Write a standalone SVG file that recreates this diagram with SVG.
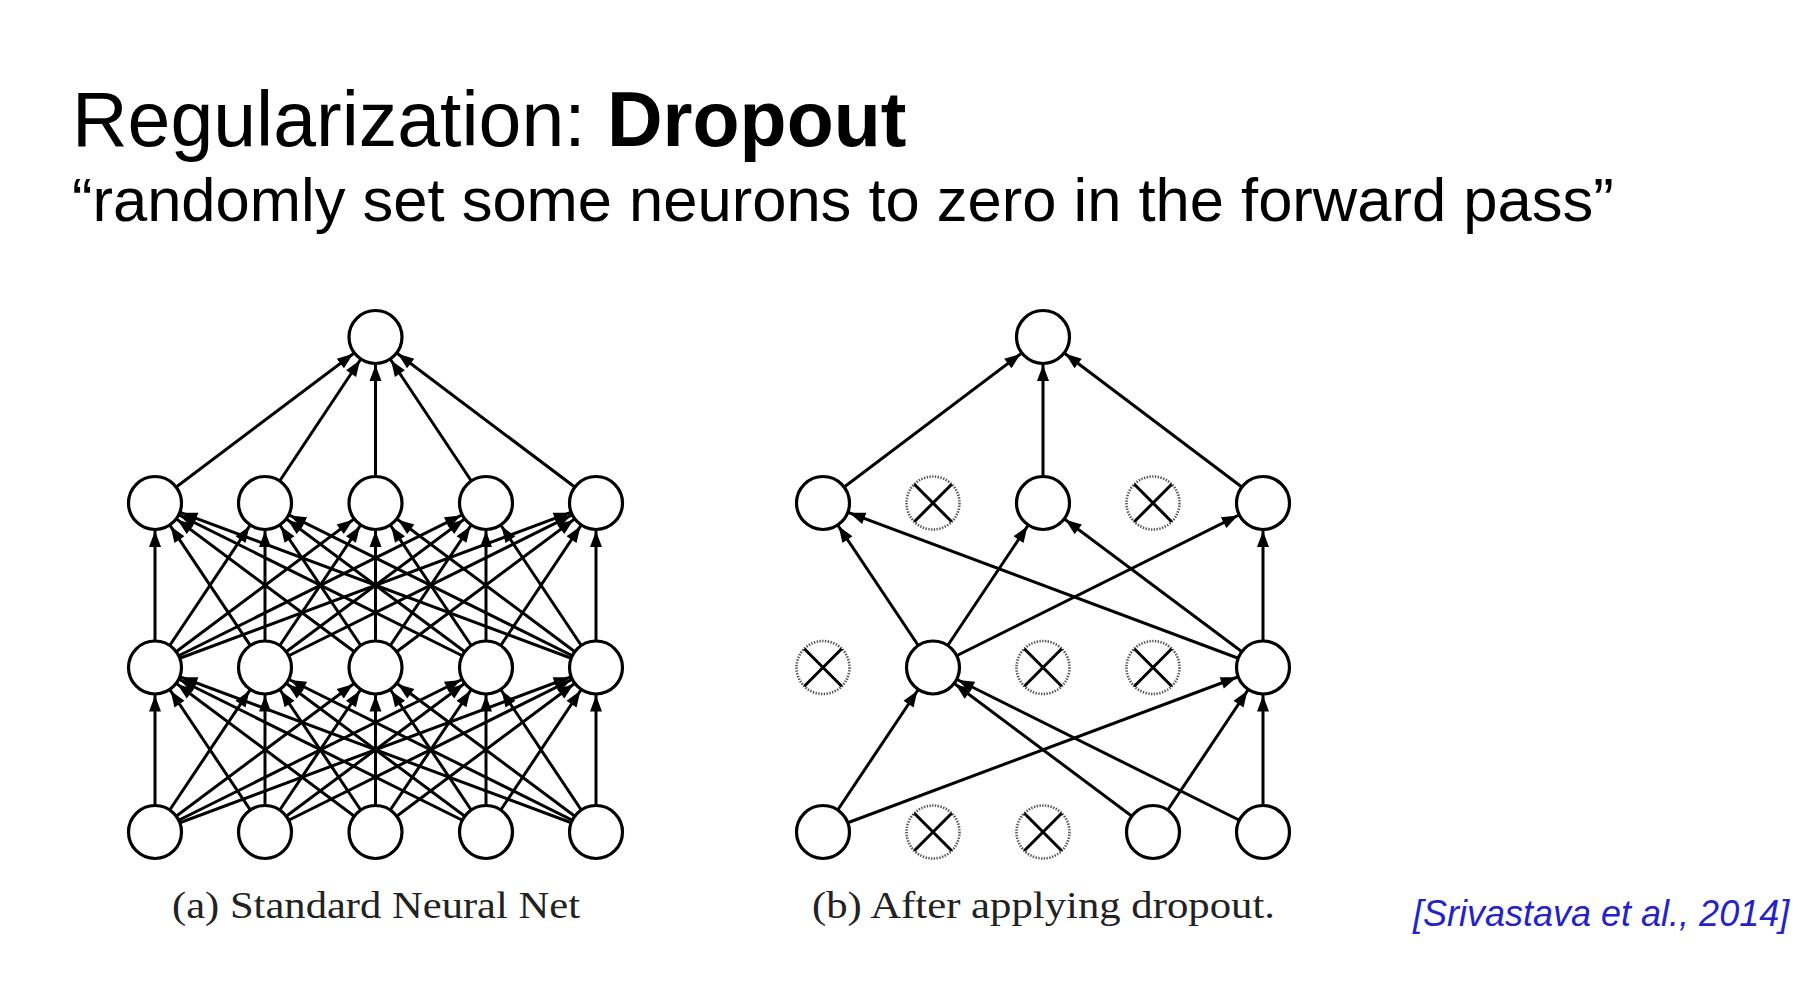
<svg xmlns="http://www.w3.org/2000/svg" width="1804" height="988" viewBox="0 0 1804 988">
<style>
.e{stroke:#000;stroke-width:3;fill:none;marker-end:url(#ah)}
.n{fill:#fff;stroke:#000;stroke-width:3.2}
.d{fill:#fff;stroke:#555;stroke-width:2.6;stroke-dasharray:1.4 1.4}
.x{stroke:#000;stroke-width:3}
.ttl{font-family:"Liberation Sans",Arial,sans-serif;fill:#000}
.cap{font-family:"Liberation Serif","Times New Roman",serif;font-size:37px;fill:#222}
</style>
<defs>
<marker id="ah" markerUnits="userSpaceOnUse" markerWidth="48" markerHeight="14" refX="44" refY="6" orient="auto" overflow="visible">
<path d="M0,0 L16,6 L0,12 Z" fill="#000"/>
</marker>
</defs>
<rect x="0" y="0" width="1804" height="988" fill="#fff"/>
<text class="ttl" x="72" y="146" font-size="77">Regularization: <tspan font-weight="bold">Dropout</tspan></text>
<text class="ttl" x="72" y="221" font-size="61.5">“randomly set some neurons to zero in the forward pass”</text>
<text x="1413" y="926" font-family="'Liberation Sans',Arial,sans-serif" font-style="italic" font-size="36" fill="#2323c8">[Srivastava et al., 2014]</text>
<text class="cap" x="172" y="918" textLength="408" lengthAdjust="spacingAndGlyphs">(a) Standard Neural Net</text>
<text class="cap" x="812" y="918" textLength="463" lengthAdjust="spacingAndGlyphs">(b) After applying dropout.</text>
<g id="connectors">
<!-- (a) hidden2 to output -->
<line class="e" x1="155" y1="503" x2="375.5" y2="337"/>
<line class="e" x1="265" y1="503" x2="375.5" y2="337"/>
<line class="e" x1="375.5" y1="503" x2="375.5" y2="337"/>
<line class="e" x1="486" y1="503" x2="375.5" y2="337"/>
<line class="e" x1="596" y1="503" x2="375.5" y2="337"/>
<!-- (a) hidden1 to hidden2 -->
<line class="e" x1="155" y1="667.5" x2="155" y2="503"/>
<line class="e" x1="265" y1="667.5" x2="155" y2="503"/>
<line class="e" x1="375.5" y1="667.5" x2="155" y2="503"/>
<line class="e" x1="486" y1="667.5" x2="155" y2="503"/>
<line class="e" x1="596" y1="667.5" x2="155" y2="503"/>
<line class="e" x1="155" y1="667.5" x2="265" y2="503"/>
<line class="e" x1="265" y1="667.5" x2="265" y2="503"/>
<line class="e" x1="375.5" y1="667.5" x2="265" y2="503"/>
<line class="e" x1="486" y1="667.5" x2="265" y2="503"/>
<line class="e" x1="596" y1="667.5" x2="265" y2="503"/>
<line class="e" x1="155" y1="667.5" x2="375.5" y2="503"/>
<line class="e" x1="265" y1="667.5" x2="375.5" y2="503"/>
<line class="e" x1="375.5" y1="667.5" x2="375.5" y2="503"/>
<line class="e" x1="486" y1="667.5" x2="375.5" y2="503"/>
<line class="e" x1="596" y1="667.5" x2="375.5" y2="503"/>
<line class="e" x1="155" y1="667.5" x2="486" y2="503"/>
<line class="e" x1="265" y1="667.5" x2="486" y2="503"/>
<line class="e" x1="375.5" y1="667.5" x2="486" y2="503"/>
<line class="e" x1="486" y1="667.5" x2="486" y2="503"/>
<line class="e" x1="596" y1="667.5" x2="486" y2="503"/>
<line class="e" x1="155" y1="667.5" x2="596" y2="503"/>
<line class="e" x1="265" y1="667.5" x2="596" y2="503"/>
<line class="e" x1="375.5" y1="667.5" x2="596" y2="503"/>
<line class="e" x1="486" y1="667.5" x2="596" y2="503"/>
<line class="e" x1="596" y1="667.5" x2="596" y2="503"/>
<!-- (a) input to hidden1 -->
<line class="e" x1="155" y1="832" x2="155" y2="667.5"/>
<line class="e" x1="265" y1="832" x2="155" y2="667.5"/>
<line class="e" x1="375.5" y1="832" x2="155" y2="667.5"/>
<line class="e" x1="486" y1="832" x2="155" y2="667.5"/>
<line class="e" x1="596" y1="832" x2="155" y2="667.5"/>
<line class="e" x1="155" y1="832" x2="265" y2="667.5"/>
<line class="e" x1="265" y1="832" x2="265" y2="667.5"/>
<line class="e" x1="375.5" y1="832" x2="265" y2="667.5"/>
<line class="e" x1="486" y1="832" x2="265" y2="667.5"/>
<line class="e" x1="596" y1="832" x2="265" y2="667.5"/>
<line class="e" x1="155" y1="832" x2="375.5" y2="667.5"/>
<line class="e" x1="265" y1="832" x2="375.5" y2="667.5"/>
<line class="e" x1="375.5" y1="832" x2="375.5" y2="667.5"/>
<line class="e" x1="486" y1="832" x2="375.5" y2="667.5"/>
<line class="e" x1="596" y1="832" x2="375.5" y2="667.5"/>
<line class="e" x1="155" y1="832" x2="486" y2="667.5"/>
<line class="e" x1="265" y1="832" x2="486" y2="667.5"/>
<line class="e" x1="375.5" y1="832" x2="486" y2="667.5"/>
<line class="e" x1="486" y1="832" x2="486" y2="667.5"/>
<line class="e" x1="596" y1="832" x2="486" y2="667.5"/>
<line class="e" x1="155" y1="832" x2="596" y2="667.5"/>
<line class="e" x1="265" y1="832" x2="596" y2="667.5"/>
<line class="e" x1="375.5" y1="832" x2="596" y2="667.5"/>
<line class="e" x1="486" y1="832" x2="596" y2="667.5"/>
<line class="e" x1="596" y1="832" x2="596" y2="667.5"/>
<!-- (b) hidden2 to output -->
<line class="e" x1="823" y1="503" x2="1043" y2="337"/>
<line class="e" x1="1043" y1="503" x2="1043" y2="337"/>
<line class="e" x1="1263" y1="503" x2="1043" y2="337"/>
<!-- (b) hidden1 to hidden2 -->
<line class="e" x1="933" y1="667.5" x2="823" y2="503"/>
<line class="e" x1="1263" y1="667.5" x2="823" y2="503"/>
<line class="e" x1="933" y1="667.5" x2="1043" y2="503"/>
<line class="e" x1="1263" y1="667.5" x2="1043" y2="503"/>
<line class="e" x1="933" y1="667.5" x2="1263" y2="503"/>
<line class="e" x1="1263" y1="667.5" x2="1263" y2="503"/>
<!-- (b) input to hidden1 -->
<line class="e" x1="823" y1="832" x2="933" y2="667.5"/>
<line class="e" x1="1153" y1="832" x2="933" y2="667.5"/>
<line class="e" x1="1263" y1="832" x2="933" y2="667.5"/>
<line class="e" x1="823" y1="832" x2="1263" y2="667.5"/>
<line class="e" x1="1153" y1="832" x2="1263" y2="667.5"/>
<line class="e" x1="1263" y1="832" x2="1263" y2="667.5"/>
</g>
<!-- (a) nodes -->
<g id="a-out"><circle class="n" cx="375.5" cy="337" r="26.5"/></g>
<g id="a-h2-0"><circle class="n" cx="155" cy="503" r="26.5"/></g>
<g id="a-h2-1"><circle class="n" cx="265" cy="503" r="26.5"/></g>
<g id="a-h2-2"><circle class="n" cx="375.5" cy="503" r="26.5"/></g>
<g id="a-h2-3"><circle class="n" cx="486" cy="503" r="26.5"/></g>
<g id="a-h2-4"><circle class="n" cx="596" cy="503" r="26.5"/></g>
<g id="a-h1-0"><circle class="n" cx="155" cy="667.5" r="26.5"/></g>
<g id="a-h1-1"><circle class="n" cx="265" cy="667.5" r="26.5"/></g>
<g id="a-h1-2"><circle class="n" cx="375.5" cy="667.5" r="26.5"/></g>
<g id="a-h1-3"><circle class="n" cx="486" cy="667.5" r="26.5"/></g>
<g id="a-h1-4"><circle class="n" cx="596" cy="667.5" r="26.5"/></g>
<g id="a-in-0"><circle class="n" cx="155" cy="832" r="26.5"/></g>
<g id="a-in-1"><circle class="n" cx="265" cy="832" r="26.5"/></g>
<g id="a-in-2"><circle class="n" cx="375.5" cy="832" r="26.5"/></g>
<g id="a-in-3"><circle class="n" cx="486" cy="832" r="26.5"/></g>
<g id="a-in-4"><circle class="n" cx="596" cy="832" r="26.5"/></g>
<!-- (b) nodes -->
<g id="b-out"><circle class="n" cx="1043" cy="337" r="26.5"/></g>
<g id="b-h2-0"><circle class="n" cx="823" cy="503" r="26.5"/></g>
<g id="b-h2-1"><circle class="d" cx="933" cy="503" r="26.5"/><path class="x" d="M914.3,484.3 L951.7,521.7 M951.7,484.3 L914.3,521.7"/></g>
<g id="b-h2-2"><circle class="n" cx="1043" cy="503" r="26.5"/></g>
<g id="b-h2-3"><circle class="d" cx="1153" cy="503" r="26.5"/><path class="x" d="M1134.3,484.3 L1171.7,521.7 M1171.7,484.3 L1134.3,521.7"/></g>
<g id="b-h2-4"><circle class="n" cx="1263" cy="503" r="26.5"/></g>
<g id="b-h1-0"><circle class="d" cx="823" cy="667.5" r="26.5"/><path class="x" d="M804.3,648.8 L841.7,686.2 M841.7,648.8 L804.3,686.2"/></g>
<g id="b-h1-1"><circle class="n" cx="933" cy="667.5" r="26.5"/></g>
<g id="b-h1-2"><circle class="d" cx="1043" cy="667.5" r="26.5"/><path class="x" d="M1024.3,648.8 L1061.7,686.2 M1061.7,648.8 L1024.3,686.2"/></g>
<g id="b-h1-3"><circle class="d" cx="1153" cy="667.5" r="26.5"/><path class="x" d="M1134.3,648.8 L1171.7,686.2 M1171.7,648.8 L1134.3,686.2"/></g>
<g id="b-h1-4"><circle class="n" cx="1263" cy="667.5" r="26.5"/></g>
<g id="b-in-0"><circle class="n" cx="823" cy="832" r="26.5"/></g>
<g id="b-in-1"><circle class="d" cx="933" cy="832" r="26.5"/><path class="x" d="M914.3,813.3 L951.7,850.7 M951.7,813.3 L914.3,850.7"/></g>
<g id="b-in-2"><circle class="d" cx="1043" cy="832" r="26.5"/><path class="x" d="M1024.3,813.3 L1061.7,850.7 M1061.7,813.3 L1024.3,850.7"/></g>
<g id="b-in-3"><circle class="n" cx="1153" cy="832" r="26.5"/></g>
<g id="b-in-4"><circle class="n" cx="1263" cy="832" r="26.5"/></g>
</svg>
